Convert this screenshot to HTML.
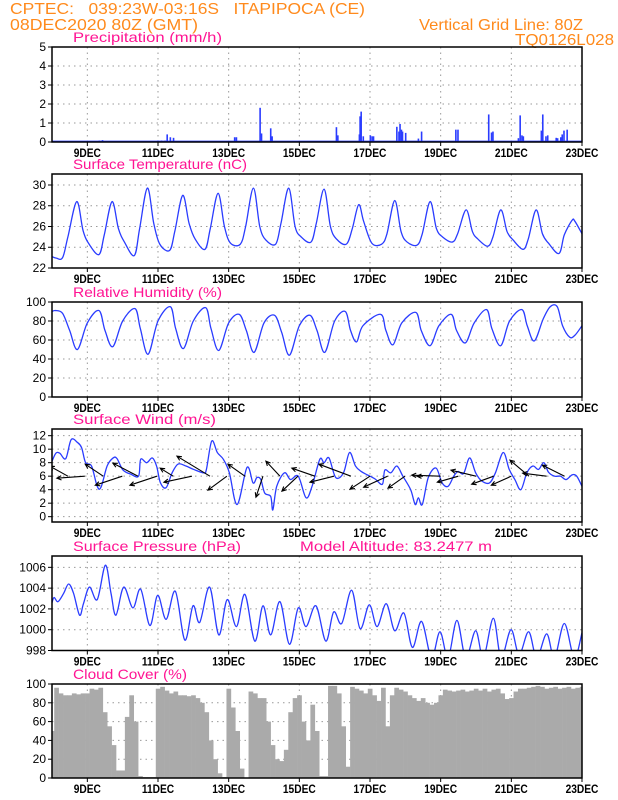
<!DOCTYPE html>
<html><head><meta charset="utf-8"><title>Meteogram</title>
<style>
html,body{margin:0;padding:0;background:#fff;}
svg{display:block;font-family:"Liberation Sans",sans-serif;}
</style></head>
<body>
<svg id="chart" width="618" height="800" viewBox="0 0 618 800" xmlns="http://www.w3.org/2000/svg">
<rect width="618" height="800" fill="#fff"/>
<g fill="#ff8a1c" font-size="16">
<text x="10" y="14" textLength="355" lengthAdjust="spacingAndGlyphs" xml:space="preserve">CPTEC:   039:23W-03:16S   ITAPIPOCA (CE)</text>
<text x="10" y="30" textLength="188" lengthAdjust="spacingAndGlyphs">08DEC2020 80Z (GMT)</text>
<text x="419" y="30" textLength="164" lengthAdjust="spacingAndGlyphs">Vertical Grid Line: 80Z</text>
<text x="515" y="45" textLength="99" lengthAdjust="spacingAndGlyphs">TQ0126L028</text>
</g>
<g id="plots"></g>
</svg>
<script>
// ---- data (time in days since 08DEC 00Z) ----
const dayLabels = ["9DEC","11DEC","13DEC","15DEC","17DEC","19DEC","21DEC","23DEC"];
const dayLabelTimes = [1,3,5,7,9,11,13,15];

const precipT = [1.14,1.34,1.43,2.06,3.0,3.1,3.2,3.26,3.35,3.44,5.17,5.22,5.89,5.93,6.19,6.23,8.05,8.09,8.7,8.72,8.75,8.81,9.01,9.06,9.1,9.76,9.82,9.85,9.89,9.92,10.01,10.37,10.46,11.43,11.49,12.36,12.44,12.48,13.2,13.25,13.3,13.34,13.85,13.89,13.98,14.03,14.27,14.31,14.4,14.44,14.49,14.58];
const precipV = [0.05,0.08,0.1,0.05,0.08,0.08,0.08,0.4,0.25,0.22,0.25,0.25,1.8,0.45,0.72,0.3,0.78,0.35,0.4,1.35,1.6,0.3,0.35,0.3,0.3,0.8,0.55,0.95,0.65,0.55,0.48,0.18,0.55,0.65,0.65,1.45,0.5,0.55,0.2,1.4,0.35,0.3,0.6,1.45,0.3,0.35,0.22,0.2,0.25,0.4,0.6,0.65];

const tempT = [0,0.12,0.3,0.45,0.7,0.88,1.05,1.33,1.48,1.7,1.88,2.05,2.33,2.48,2.7,2.88,3.05,3.33,3.48,3.7,3.88,4.05,4.33,4.48,4.7,4.88,5.05,5.33,5.48,5.7,5.88,6.05,6.33,6.48,6.7,6.88,7.05,7.33,7.48,7.7,7.88,8.05,8.33,8.5,8.68,8.82,9.05,9.33,9.48,9.7,9.88,10.05,10.33,10.48,10.7,10.88,11.05,11.33,11.48,11.72,11.9,12.05,12.33,12.48,12.7,12.88,13.05,13.33,13.48,13.7,13.88,14.05,14.35,14.5,14.72,14.8,15.0];
const tempV = [23.1,22.95,23.0,25.0,28.4,25.6,24.3,23.3,25.2,28.4,25.8,24.5,23.2,25.8,29.7,26.3,24.3,23.7,25.6,29.0,26.3,24.8,23.8,25.8,29.2,26.0,24.4,24.3,26.0,29.7,26.0,24.7,24.3,26.3,29.7,26.0,25.0,24.5,26.3,29.6,26.0,24.8,24.3,25.8,28.1,26.5,24.4,24.3,25.3,28.5,25.5,24.5,24.2,25.3,28.4,25.8,25.0,24.5,25.3,27.6,25.5,24.8,24.1,25.0,27.6,25.5,24.7,23.8,24.8,27.6,25.3,24.4,23.4,25.2,26.6,26.5,25.3];

const rhT = [0,0.1,0.3,0.5,0.72,1.0,1.33,1.5,1.72,2.0,2.35,2.5,2.72,3.0,3.35,3.5,3.72,4.0,4.35,4.5,4.72,5.0,5.3,5.5,5.72,6.0,6.3,6.5,6.72,7.0,7.3,7.5,7.72,8.0,8.3,8.45,8.62,8.8,9.3,9.45,9.65,9.9,10.3,10.45,10.7,10.95,11.3,11.45,11.7,11.95,12.3,12.45,12.7,12.95,13.3,13.45,13.65,13.9,14.1,14.3,14.45,14.65,14.8,15.0];
const rhV = [90,91,88,70,50,78,91,70,53,80,93,72,45,80,95,72,51,80,94,72,49,78,87,70,47,78,86,68,44,75,86,70,47,80,90,70,58,75,87,70,55,78,89,70,54,75,87,70,57,78,92,72,54,80,92,75,59,82,95,95,75,63,65,75];

const windT = [0,0.11,0.22,0.39,0.54,0.72,0.84,0.95,1.12,1.28,1.39,1.56,1.73,1.84,2.01,2.23,2.45,2.51,2.68,2.84,2.96,3.07,3.23,3.4,3.57,3.79,4.01,4.29,4.37,4.52,4.68,4.85,5.02,5.24,5.52,5.69,5.8,5.91,6.02,6.19,6.25,6.36,6.58,6.75,6.97,7.19,7.36,7.58,7.7,7.84,8.03,8.25,8.42,8.59,8.75,8.92,9.14,9.35,9.42,9.59,9.76,9.93,10.15,10.28,10.37,10.48,10.65,10.87,11.04,11.21,11.37,11.49,11.65,11.82,11.99,12.16,12.38,12.55,12.77,12.94,13.1,13.27,13.44,13.61,13.77,13.92,14.05,14.22,14.39,14.55,14.72,14.85,15.0];
const windV = [8.2,9.4,9.4,8.6,11.4,11.0,10.2,8.0,7.5,4.5,4.4,7.5,8.7,8.6,6.9,6.3,6.0,8.5,8.0,8.7,7.5,5.0,4.3,6.5,7.8,7.5,7.0,6.5,7.0,11.2,9.5,8.5,6.5,1.8,7.3,5.0,5.8,5.5,3.5,3.0,1.0,4.5,6.5,5.5,6.0,2.8,4.5,8.5,8.0,8.7,5.8,6.5,9.5,7.5,6.7,6.2,5.6,4.8,6.9,6.5,7.5,6.0,4.0,1.8,2.8,1.8,5.8,7.2,5.0,4.5,6.0,6.7,6.4,8.7,6.5,5.3,5.0,6.5,9.5,7.0,5.5,4.0,6.5,7.5,7.0,8.0,6.6,6.0,6.0,5.5,6.2,6.0,4.5];

const arrowT = [0.45,0.93,1.45,1.99,2.43,2.97,3.43,3.96,4.47,4.95,5.46,5.97,6.45,6.96,7.44,7.98,8.46,9.0,9.5,9.99,10.5,11.0,11.5,12.0,12.5,13.0,13.5,14.0,14.5];
const arrowU = [-4.5,-7,-4.5,-6.75,-6.25,-6.75,-3.25,-7,-8.25,-4.75,-4.25,-1.75,-3.5,-4,-5.75,-6,-8,-5,-6,-4.25,-1.5,-7.25,-5.25,-6.25,-5.5,-5,-4.75,-6,-5.5];
const arrowV = [2.5,-0.5,3,-2.25,3.25,-2.25,2,-1.5,5,-3.5,3,-5.25,3.75,-3.75,2,-1.5,3,-3.25,-2.75,-3,0,0.25,-1.5,1.5,-2,-2.25,4,0.75,2.75];

const presT = [0,0.06,0.17,0.33,0.47,0.61,0.78,0.89,1.06,1.28,1.51,1.67,1.81,2.03,2.29,2.51,2.77,2.99,3.23,3.49,3.76,3.99,4.18,4.46,4.72,4.96,5.22,5.46,5.74,5.97,6.19,6.45,6.72,6.97,7.19,7.47,7.75,7.97,8.2,8.48,8.72,8.98,9.2,9.46,9.7,9.96,10.2,10.46,10.74,10.98,11.21,11.46,11.71,11.99,12.21,12.49,12.71,12.99,13.22,13.49,13.72,14.0,14.22,14.5,14.78,15.0];
const presV = [1002.6,1003.1,1002.7,1003.5,1004.4,1003.5,1001.4,1002.5,1004.1,1002.9,1006.2,1003.5,1001.4,1004.1,1002.1,1003.9,1000.4,1003.3,1001.0,1003.7,999.0,1002.3,1000.7,1004.1,999.5,1002.9,1000.3,1003.4,998.9,1002.3,999.5,1002.7,998.6,1002.1,1000.3,1002.3,998.9,1001.7,1000.6,1003.8,1000.1,1002.4,1000.3,1002.5,999.9,1001.6,998.3,1000.8,997.3,999.8,997.3,1000.9,997.3,999.9,997.3,1001.1,997.3,1000.0,997.6,999.8,997.3,999.6,997.3,1000.6,997.3,999.7];

const cloudV = [50,96,90,88,88,90,89,90,90,95,94,96,70,55,35,8,8,65,88,60,2,1,1,1,95,97,93,90,92,88,88,87,88,85,80,70,40,20,5,1,95,75,50,10,0,92,90,85,85,60,35,20,18,30,70,85,88,60,40,78,50,2,2,98,98,90,55,12,97,95,93,90,95,88,82,96,55,88,96,94,92,88,85,82,85,80,78,80,88,94,93,92,93,94,92,93,95,93,95,92,94,95,90,84,85,92,95,95,96,97,98,97,95,96,97,95,96,97,95,96,97];
const cloudStep = 0.125;

// ---- layout ----
const X0 = 52, X1 = 582, T0 = 0, T1 = 15;
const NS = "http://www.w3.org/2000/svg";
const root = document.getElementById('plots');
function xS(t){ return X0 + (t - T0) / (T1 - T0) * (X1 - X0); }
function mk(tag, attrs, parent){ const e = document.createElementNS(NS, tag); for (const k in attrs) e.setAttribute(k, attrs[k]); (parent||root).appendChild(e); return e; }
function smoothPath(pts){
  let d = "M" + pts[0][0].toFixed(2) + "," + pts[0][1].toFixed(2);
  for (let i = 0; i < pts.length - 1; i++){
    const p0 = pts[i-1] || pts[i], p1 = pts[i], p2 = pts[i+1], p3 = pts[i+2] || p2;
    const c1x = p1[0] + (p2[0]-p0[0])/6, c1y = p1[1] + (p2[1]-p0[1])/6;
    const c2x = p2[0] - (p3[0]-p1[0])/6, c2y = p2[1] - (p3[1]-p1[1])/6;
    d += "C" + c1x.toFixed(2)+","+c1y.toFixed(2)+" "+c2x.toFixed(2)+","+c2y.toFixed(2)+" "+p2[0].toFixed(2)+","+p2[1].toFixed(2);
  }
  return d;
}
function panel(cfg){
  const g = mk('g', {});
  
  
  const yS = v => cfg.bot - (v - cfg.vmin) / (cfg.vmax - cfg.vmin) * (cfg.bot - cfg.top);
  const t = mk('text', {x: 73, y: cfg.top - 5, fill: '#ff1493', 'font-size': 14, textLength: cfg.titleW, lengthAdjust: 'spacingAndGlyphs'}, g);
  
  
  t.textContent = cfg.title;
  if (cfg.extra){
    const e = mk('text', {x: 300, y: cfg.top - 5, fill: '#ff1493', 'font-size': 14, textLength: 192, lengthAdjust: 'spacingAndGlyphs'}, g);
    
    
    e.textContent = cfg.extra;
  }
  const grid = mk('g', {stroke: '#999', 'stroke-width': 1, 'stroke-dasharray': '1.5,4'}, g);
  
  
  cfg.yTicks.forEach(v => {
    const y = yS(v);
    mk('line', {x1: X0, x2: X1, y1: y, y2: y}, grid);
    const lb = mk('text', {x: 46, y: y + 4, 'text-anchor': 'end', 'font-size': 12, fill: '#000'}, g);
    
    
    lb.textContent = v;
    mk('line', {x1: X0 - 4, x2: X0, y1: y, y2: y, stroke: '#000'}, g);
  });
  dayLabelTimes.forEach((d, i) => {
    const x = xS(d);
    mk('line', {x1: x, x2: x, y1: cfg.top, y2: cfg.bot}, grid);
    mk('line', {x1: x, x2: x, y1: cfg.bot, y2: cfg.bot + 4, stroke: '#000'}, g);
    const lb = mk('text', {x: x, y: cfg.bot + 15, 'text-anchor': 'middle', 'font-size': 12, fill: '#000', 'font-weight': 'bold', transform: 'translate(' + x + ',0) scale(0.85,1) translate(' + (-x) + ',0)'}, g);
    
    
    lb.textContent = dayLabels[i];
  });
  const clipId = 'clip-' + cfg.name;
  const cp = mk('clipPath', {id: clipId}, g);
  mk('rect', {x: X0, y: cfg.top, width: X1 - X0, height: cfg.bot - cfg.top}, cp);
  const body = mk('g', {'clip-path': 'url(#' + clipId + ')'}, g);
  cfg.draw(body, yS);
  const fr = mk('rect', {x: X0, y: cfg.top, width: X1 - X0, height: cfg.bot - cfg.top, fill: 'none', stroke: '#000', 'stroke-width': 1.5}, g);
  
  
}
function lineSeries(name, ts, vs){
  return function(body, yS){
    const pts = ts.map((t, i) => [xS(t), yS(vs[i])]);
    const p = mk('path', {d: smoothPath(pts), fill: 'none', stroke: '#2a3cff', 'stroke-width': 1.3}, body);
    
    
  };
}

panel({name: 'precipitation', title: 'Precipitation (mm/h)', titleW: 149, top: 47, bot: 142, vmin: 0, vmax: 5, yTicks: [0,1,2,3,4,5],
  draw: function(body, yS){
    const base = mk('line', {x1: X0, x2: X1, y1: yS(0) - 0.7, y2: yS(0) - 0.7, stroke: '#2a3cff', 'stroke-width': 1.4}, body);
    
    
    precipT.forEach((t, i) => {
      const b = mk('rect', {x: xS(t) - 0.8, y: yS(precipV[i]), width: 1.6, height: yS(0) - yS(precipV[i]), fill: '#2a3cff'}, body);
      
      
    });
  }});
panel({name: 'temperature', title: 'Surface Temperature (nC)', titleW: 174, top: 174, bot: 268, vmin: 22, vmax: 31.06, yTicks: [22,24,26,28,30], draw: lineSeries('temperature', tempT, tempV)});
panel({name: 'humidity', title: 'Relative Humidity (%)', titleW: 149, top: 302, bot: 397, vmin: 0, vmax: 100, yTicks: [0,20,40,60,80,100], draw: lineSeries('humidity', rhT, rhV)});
panel({name: 'wind', title: 'Surface Wind (m/s)', titleW: 143, top: 429, bot: 522, vmin: -0.79, vmax: 12.99, yTicks: [0,2,4,6,8,10,12],
  draw: function(body, yS){
    lineSeries('wind-speed', windT, windV)(body, yS);
    const S = 4;
    arrowT.forEach((t, i) => {
      const x0 = xS(t), y0 = yS(6);
      const x1 = x0 + arrowU[i] * S, y1 = y0 - arrowV[i] * S;
      const ang = Math.atan2(y1 - y0, x1 - x0), h = 5;
      const a = mk('path', {d: 'M' + x0 + ',' + y0 + 'L' + x1 + ',' + y1 + 'M' + (x1 - h*Math.cos(ang-0.45)) + ',' + (y1 - h*Math.sin(ang-0.45)) + 'L' + x1 + ',' + y1 + 'L' + (x1 - h*Math.cos(ang+0.45)) + ',' + (y1 - h*Math.sin(ang+0.45)), fill: 'none', stroke: '#000', 'stroke-width': 1.1}, body);
      
      
    });
  }});
panel({name: 'pressure', title: 'Surface Pressure (hPa)', titleW: 168, extra: 'Model Altitude: 83.2477 m', top: 556, bot: 650.5, vmin: 998, vmax: 1007.09, yTicks: [998,1000,1002,1004,1006], draw: lineSeries('pressure', presT, presV)});
panel({name: 'cloud', title: 'Cloud Cover (%)', titleW: 114, top: 684, bot: 778, vmin: 0, vmax: 100, yTicks: [0,20,40,60,80,100],
  draw: function(body, yS){
    const w = (xS(cloudStep) - xS(0));
    cloudV.forEach((v, i) => {
      const x = xS(i * cloudStep) - w / 2;
      const b = mk('rect', {x: x, y: yS(v), width: w + 0.3, height: yS(0) - yS(v), fill: '#aaaaaa'}, body);
      
      
    });
  }});
</script>
</body></html>
